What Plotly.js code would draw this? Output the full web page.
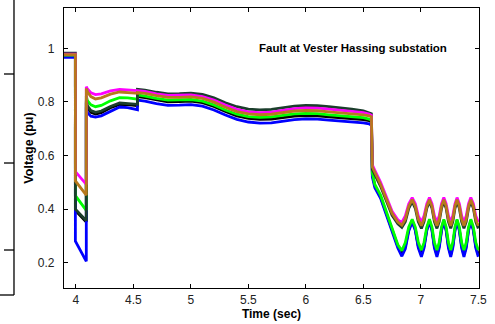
<!DOCTYPE html>
<html>
<head>
<meta charset="utf-8">
<script src="https://cdn.plot.ly/plotly-3.0.1.min.js"></script>
<style>html,body{margin:0;padding:0;background:#fff;}#chart{width:495px;height:324px;}</style>
</head>
<body>
<div id="chart"></div>
<script>
// Time samples (s)
var timeSec = [
  3.896, 3.995, 3.995, 4.09, 4.09, 4.10, 4.13, 4.17, 4.22, 4.30, 4.38, 4.45, 4.535,
  4.535, 4.6, 4.7, 4.8, 4.9, 5.0, 5.1, 5.2, 5.3, 5.4, 5.5, 5.6, 5.7, 5.8, 5.9, 6.0,
  6.1, 6.2, 6.3, 6.4, 6.5, 6.55, 6.57,
  6.578, 6.6, 6.65, 6.7, 6.75, 6.8,
  6.835, 6.865, 6.895, 6.925, 6.952, 6.978,
  7.005, 7.028, 7.052, 7.075, 7.097, 7.118,
  7.14, 7.16, 7.18, 7.20, 7.22, 7.24,
  7.26, 7.278, 7.297, 7.315, 7.335, 7.355,
  7.375, 7.395, 7.415, 7.435, 7.457, 7.478,
  7.5
];

var vBlue = [
  0.966, 0.966, 0.280, 0.205, 0.780, 0.760, 0.747, 0.743, 0.748, 0.766, 0.781, 0.779, 0.771,
  0.807, 0.803, 0.794, 0.787, 0.788, 0.790, 0.784, 0.770, 0.751, 0.735, 0.725, 0.721, 0.722, 0.728, 0.734, 0.737,
  0.736, 0.732, 0.729, 0.725, 0.722, 0.718, 0.713,
  0.520, 0.480, 0.440, 0.378, 0.310, 0.255,
  0.224, 0.252, 0.318, 0.352, 0.320, 0.255,
  0.222, 0.255, 0.320, 0.353, 0.320, 0.255,
  0.222, 0.255, 0.320, 0.353, 0.320, 0.255,
  0.222, 0.255, 0.320, 0.353, 0.320, 0.255,
  0.222, 0.255, 0.320, 0.353, 0.320, 0.255,
  0.222
];

var vBlack = [
  0.972, 0.972, 0.395, 0.352, 0.798, 0.778, 0.761, 0.755, 0.760, 0.778, 0.791, 0.790, 0.786,
  0.820, 0.816, 0.807, 0.800, 0.801, 0.803, 0.797, 0.783, 0.764, 0.748, 0.739, 0.735, 0.736, 0.741, 0.747, 0.749,
  0.748, 0.744, 0.741, 0.738, 0.734, 0.730, 0.725,
  0.530, 0.488, 0.446, 0.384, 0.316, 0.262,
  0.231, 0.260, 0.324, 0.357, 0.325, 0.262,
  0.230, 0.262, 0.325, 0.357, 0.325, 0.262,
  0.230, 0.262, 0.325, 0.357, 0.325, 0.262,
  0.230, 0.262, 0.325, 0.357, 0.325, 0.262,
  0.230, 0.262, 0.325, 0.357, 0.325, 0.262,
  0.230
];

var vGreen = [
  0.975, 0.975, 0.450, 0.395, 0.822, 0.805, 0.789, 0.782, 0.787, 0.804, 0.816, 0.815, 0.810,
  0.826, 0.822, 0.813, 0.807, 0.807, 0.809, 0.803, 0.789, 0.770, 0.754, 0.745, 0.742, 0.744, 0.750, 0.755, 0.757,
  0.756, 0.752, 0.749, 0.745, 0.741, 0.736, 0.731,
  0.535, 0.492, 0.452, 0.390, 0.322, 0.267,
  0.245, 0.275, 0.333, 0.362, 0.333, 0.276,
  0.247, 0.276, 0.333, 0.362, 0.333, 0.276,
  0.247, 0.276, 0.333, 0.362, 0.333, 0.276,
  0.247, 0.276, 0.333, 0.362, 0.333, 0.276,
  0.247, 0.276, 0.333, 0.362, 0.333, 0.276,
  0.247
];

var vDarkGreen = [
  0.982, 0.982, 0.400, 0.357, 0.805, 0.785, 0.768, 0.761, 0.766, 0.783, 0.796, 0.795, 0.791,
  0.847, 0.844, 0.836, 0.830, 0.831, 0.833, 0.828, 0.815, 0.797, 0.782, 0.773, 0.770, 0.772, 0.778, 0.784, 0.787,
  0.786, 0.782, 0.778, 0.773, 0.767, 0.761, 0.756,
  0.548, 0.530, 0.485, 0.431, 0.377, 0.345,
  0.332, 0.353, 0.403, 0.428, 0.403, 0.353,
  0.328, 0.353, 0.403, 0.428, 0.403, 0.353,
  0.328, 0.353, 0.403, 0.428, 0.403, 0.353,
  0.328, 0.353, 0.403, 0.428, 0.403, 0.353,
  0.328, 0.353, 0.403, 0.428, 0.403, 0.353,
  0.328
];

var vMagenta = [
  0.978, 0.978, 0.540, 0.492, 0.857, 0.848, 0.834, 0.827, 0.830, 0.841, 0.847, 0.846, 0.842,
  0.842, 0.839, 0.830, 0.824, 0.824, 0.826, 0.820, 0.807, 0.788, 0.772, 0.763, 0.760, 0.762, 0.768, 0.775, 0.778,
  0.777, 0.773, 0.770, 0.765, 0.760, 0.755, 0.750,
  0.565, 0.545, 0.500, 0.446, 0.392, 0.360,
  0.350, 0.375, 0.420, 0.443, 0.420, 0.375,
  0.352, 0.375, 0.420, 0.443, 0.420, 0.375,
  0.352, 0.375, 0.420, 0.443, 0.420, 0.375,
  0.352, 0.375, 0.420, 0.443, 0.420, 0.375,
  0.352, 0.375, 0.420, 0.443, 0.420, 0.375,
  0.352
];

var vBrown = [
  0.976, 0.976, 0.505, 0.452, 0.850, 0.838, 0.820, 0.811, 0.815, 0.829, 0.837, 0.836, 0.832,
  0.835, 0.832, 0.823, 0.817, 0.817, 0.819, 0.813, 0.799, 0.780, 0.764, 0.755, 0.752, 0.754, 0.760, 0.766, 0.768,
  0.767, 0.763, 0.760, 0.756, 0.752, 0.748, 0.744,
  0.557, 0.537, 0.492, 0.438, 0.384, 0.352,
  0.340, 0.362, 0.411, 0.435, 0.411, 0.362,
  0.338, 0.362, 0.411, 0.435, 0.411, 0.362,
  0.338, 0.362, 0.411, 0.435, 0.411, 0.362,
  0.338, 0.362, 0.411, 0.435, 0.411, 0.362,
  0.338, 0.362, 0.411, 0.435, 0.411, 0.362,
  0.338
];

var seriesNames = ['Bus E', 'Bus F', 'Bus C', 'Bus D', 'Bus A', 'Bus B'];
var seriesValues = [vBlack, vBlue, vGreen, vDarkGreen, vMagenta, vBrown];
var seriesColors = ['#000000', '#0000ff', '#00ff00', '#1b3e2c', '#ff00ff', '#b7791c'];

var xTickVals = [4, 4.5, 5, 5.5, 6, 6.5, 7, 7.5];
var xTickText = ['4', '4.5', '5', '5.5', '6', '6.5', '7', '7.5'];
var yTickVals = [0.2, 0.4, 0.6, 0.8, 1];
var yTickText = ['0.2', '0.4', '0.6', '0.8', '1'];

var chartTitle = 'Fault at Vester Hassing substation';
var xTitle = 'Time (sec)';
var yTitle = 'Voltage (pu)';

var traces = seriesValues.map(function (vals, i) {
  return {
    x: timeSec, y: vals, type: 'scatter', mode: 'lines', name: seriesNames[i],
    line: {color: seriesColors[i], width: 2.8}, hoverinfo: 'skip'
  };
});

var FONT = 'Liberation Sans, Arial, sans-serif';

// Partial neighbouring panel at the far left (decoration)
var stub = [];
function line(x0, y0, x1, y1) {
  stub.push({type: 'line', xref: 'paper', yref: 'paper', x0: x0, y0: y0, x1: x1, y1: y1,
             line: {color: '#000', width: 1.3}});
}
line(-0.1205, 1.06, -0.1205, -0.025);
line(-0.17, -0.025, -0.1205, -0.025);
[0.7643, 0.4464, 0.1357].forEach(function (yy) { line(-0.1446, yy, -0.1205, yy); });

var layout = {
  width: 495, height: 324,
  margin: {l: 64, r: 16, t: 8, b: 36},
  paper_bgcolor: '#fff', plot_bgcolor: '#fff',
  showlegend: false,
  font: {family: FONT, size: 12, color: '#222'},
  xaxis: {
    range: [3.896, 7.506], tickvals: xTickVals, ticktext: xTickText,
    ticks: 'inside', ticklen: 4, tickwidth: 1, tickcolor: '#000',
    showline: true, linecolor: '#000', linewidth: 1.2, mirror: 'ticks',
    showgrid: false, zeroline: false,
    tickfont: {family: FONT, size: 12, color: '#222'},
    title: {text: xTitle, font: {family: FONT, size: 12, color: '#000', weight: 'bold'}, standoff: 0}
  },
  yaxis: {
    range: [0.1056, 1.1504], tickvals: yTickVals, ticktext: yTickText,
    ticks: 'inside', ticklen: 4, tickwidth: 1, tickcolor: '#000',
    showline: true, linecolor: '#000', linewidth: 1.2, mirror: 'ticks',
    showgrid: false, zeroline: false, ticklabelstandoff: 6,
    tickfont: {family: FONT, size: 12, color: '#222'},
    title: {text: yTitle, font: {family: FONT, size: 12.5, color: '#000', weight: 'bold'}, standoff: 1}
  },
  annotations: [{
    text: chartTitle, xref: 'paper', yref: 'paper', x: 0.697, y: 0.857,
    showarrow: false, xanchor: 'center', yanchor: 'middle',
    font: {family: FONT, size: 11.5, color: '#000', weight: 'bold'}
  }],
  shapes: stub
};

Plotly.newPlot('chart', traces, layout, {staticPlot: true, displayModeBar: false});
</script>
</body>
</html>
